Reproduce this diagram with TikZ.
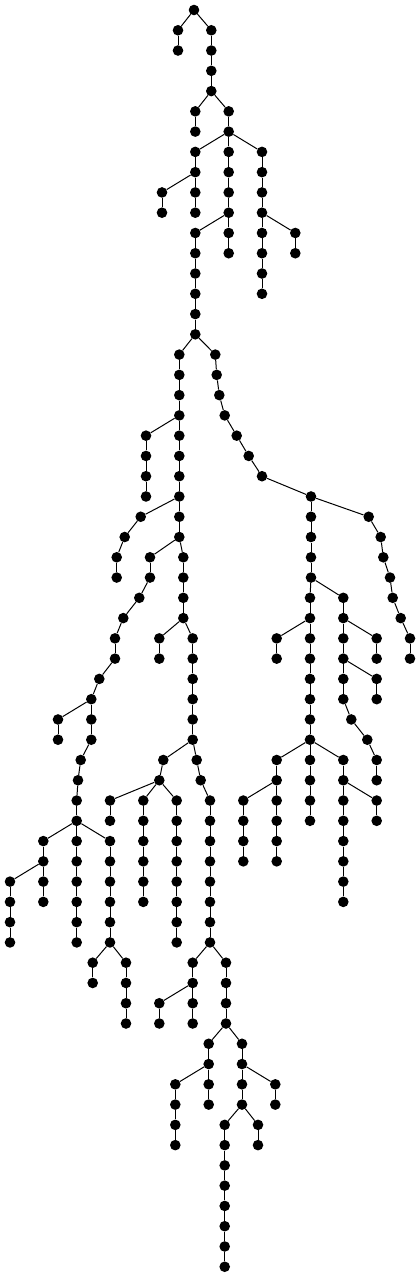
\documentclass[tikz,border=0pt]{standalone}
\begin{document}
\begin{tikzpicture}[x=1pt,y=-1pt,
  dot/.style={circle,fill=black,draw=none,inner sep=0pt,minimum size=10.6pt},
  edge/.style={line width=1pt,black}]
\useasboundingbox (0,0) rectangle (420,1277);
\foreach \lev/\xs in {
0/{194/1},
1/{178/1,211.3/1},
2/{178/1,211.3/2},
3/{211.3/2},
4/{211.3/1},
5/{195.3/1,228.7/1},
6/{195.3/1,228.7/2},
7/{195.3/2,228.7/2,262/2},
8/{195.3/1,228.7/2,262/3},
9/{162/1,195.3/1,228.7/2,262/3},
10/{162/1,195.3/2,228.7/3,262/4},
11/{195.3/3,228.7/3,262/4,295.3/4},
12/{195.3/1,228.7/2,262/3,295.3/4},
13/{195.3/1,262/3},
14/{195.3/1,262/2},
15/{195.3/1},
16/{195.3/1},
17/{179.3/1,215.3/1},
18/{179.3/1,216.7/2},
19/{179.3/1,219.3/2},
20/{179.3/1,224.7/2},
21/{146/1,179.3/1,236.7/2},
22/{146/1,179.3/2,248.7/3},
23/{146/1,179.3/2,262/3},
24/{146/1,179.3/2,311/3},
25/{140.7/2,179.3/2,311/3,368.7/3},
26/{124.7/1,179.3/2,311/3,380.7/4},
27/{116.7/1,150/2,183.3/2,311/3,383.3/4},
28/{116.7/1,150/2,183.3/3,311/4,390/5},
29/{139.3/2,183.3/3,310/4,343.3/4,392.7/5},
30/{123.3/1,183.3/2,310/3,343.3/4,400.7/5},
31/{115/1,159.3/2,192.7/2,276.7/3,310/3,343.3/4,376.7/4,410/5},
32/{115/1,159.3/2,192.7/3,276.7/4,310/5,343.3/6,376.7/7,410/8},
33/{99.3/1,192.7/3,310/5,343.3/6,376.7/6},
34/{91.3/1,192.7/2,310/3,343.3/4,376.7/5},
35/{58/1,91.3/1,192.7/2,310/3,351.3/4},
36/{58/1,91.3/2,192.7/3,310/4,367.3/5},
37/{80.7/2,163.3/3,196.7/3,276.7/4,310/4,343.3/4,376.7/5},
38/{78/1,159.3/2,200.7/3,276.7/4,310/5,343.3/6,376.7/7},
39/{76.7/1,110/2,143.3/2,176.7/2,210/3,243.3/4,276.7/4,310/5,343.3/6,376.7/6},
40/{76.7/1,110/2,143.3/3,176.7/4,210/5,243.3/6,276.7/7,310/8,343.3/9,376.7/10},
41/{43.3/1,76.7/1,110/1,143.3/3,176.7/4,210/5,243.3/6,276.7/7,343.3/9},
42/{43.3/1,76.7/2,110/3,143.3/4,176.7/5,210/6,243.3/7,276.7/8,343.3/9},
43/{10/1,43.3/1,76.7/2,110/3,143.3/4,176.7/5,210/6,343.3/9},
44/{10/1,43.3/2,76.7/3,110/4,143.3/5,176.7/6,210/7,343.3/8},
45/{10/1,76.7/3,110/4,176.7/6,210/7},
46/{10/1,76.7/2,110/3,176.7/4,210/5},
47/{92.7/3,126/3,192.7/5,226/5},
48/{92.7/1,126/2,192.7/3,226/4},
49/{126/2,159.3/3,192.7/3,226/4},
50/{126/1,159.3/2,192.7/3,226/4},
51/{208.7/4,242/4},
52/{208.7/1,242/2},
53/{175.3/1,208.7/1,242/2,275.3/2},
54/{175.3/1,208.7/2,242/3,275.3/4},
55/{175.3/1,224.7/3,258/3},
56/{175.3/1,224.7/2,258/3},
57/{224.7/2},
58/{224.7/1},
59/{224.7/1},
60/{224.7/1},
61/{224.7/1},
62/{224.7/1}}{
  \pgfmathtruncatemacro\prev{\lev-1}
  \foreach \x/\p [count=\i] in \xs {
    \node[dot] (n\lev v\i) at (\x,{10+20.27*\lev}) {};
    \ifnum\lev>0 \draw[edge] (n\lev v\i) -- (n\prev v\p);\fi
  }
}
\end{tikzpicture}
\end{document}
